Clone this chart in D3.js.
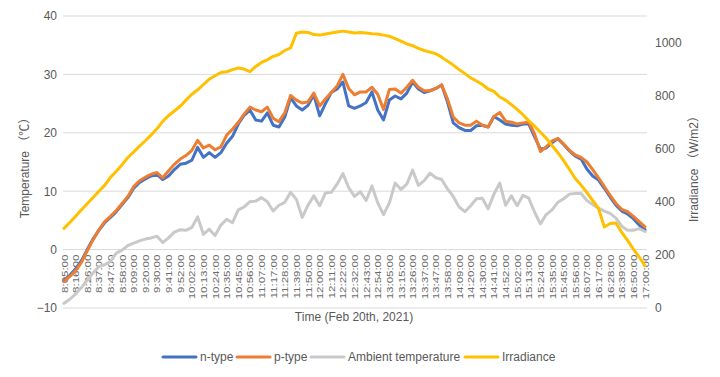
<!DOCTYPE html>
<html>
<head>
<meta charset="utf-8">
<script src="https://cdn.jsdelivr.net/npm/d3@7"></script>
<style>
  body { margin: 0; background: #fff; }
  text { font-family: "Liberation Sans", Arial, "Noto Sans CJK SC", sans-serif; fill: #595959; }
</style>
</head>
<body>
<svg id="chart"></svg>
<script>
const tickLabels = ["8:05:00","8:16:00","8:26:00","8:37:00","8:47:00","8:58:00","9:09:00","9:20:00","9:30:00","9:41:00","9:52:00","10:02:00","10:13:00","10:24:00","10:35:00","10:45:00","10:56:00","11:07:00","11:17:00","11:28:00","11:39:00","11:50:00","12:00:00","12:11:00","12:22:00","12:32:00","12:43:00","12:54:00","13:05:00","13:15:00","13:26:00","13:37:00","13:47:00","13:58:00","14:09:00","14:20:00","14:30:00","14:41:00","14:52:00","15:02:00","15:13:00","15:24:00","15:35:00","15:45:00","15:56:00","16:07:00","16:17:00","16:28:00","16:39:00","16:50:00","17:00:00"];

const tempTicks = [-10, 0, 10, 20, 30, 40];
const irrTicks = [0, 200, 400, 600, 800, 1000];

// two readings per labelled interval, 8:05 -> 17:00
const nType = [-5.3,-4.4,-3.3,-1.9,0.0,1.8,3.3,4.6,5.5,6.5,7.7,8.9,10.5,11.5,12.1,12.6,12.9,12.0,12.6,13.7,14.6,14.8,15.3,17.5,15.8,16.6,15.8,16.6,18.2,19.4,21.5,23.0,23.9,22.2,22.0,23.4,21.3,21.0,22.7,26.0,24.6,23.9,24.7,26.5,22.9,25.0,26.9,27.5,28.7,24.6,24.2,24.6,25.2,27.0,23.9,22.2,25.6,26.3,25.8,26.8,28.7,27.5,26.9,27.2,27.6,28.2,25.3,21.7,20.9,20.4,20.4,21.2,21.3,21.0,22.8,22.2,21.5,21.3,21.2,21.5,21.5,19.3,17.2,17.4,18.3,19.0,18.0,16.9,16.0,15.5,13.8,12.6,11.9,10.5,9.0,7.6,6.6,6.1,5.3,4.2,3.4];

const pType = [-5.5,-4.6,-3.6,-2.2,-0.2,1.7,3.4,4.8,5.7,6.7,7.9,9.1,10.8,11.8,12.4,12.9,13.2,12.3,13.5,14.6,15.5,16.1,17.0,18.7,17.4,17.9,17.1,17.6,19.6,20.6,21.8,23.2,24.4,23.9,23.6,24.4,22.5,21.9,23.4,26.4,25.6,25.1,25.3,26.8,24.6,25.8,26.9,28.0,30.0,27.6,26.5,27.0,27.0,27.8,26.6,24.0,27.4,27.5,26.8,27.8,29.0,27.8,27.2,27.2,27.6,28.2,25.8,22.7,21.7,21.3,21.3,22.0,21.3,21.0,22.8,23.5,22.0,21.8,21.5,21.7,21.8,19.8,16.8,17.6,18.6,19.0,18.1,17.0,16.2,15.8,15.0,13.7,12.3,10.8,9.3,7.9,6.9,6.5,5.7,4.8,3.9];

const ambient = [-9.2,-8.5,-7.6,-6.5,-5.2,-4.0,-2.9,-2.6,-2.0,-0.6,-0.1,0.7,1.1,1.5,1.8,2.0,2.3,1.2,2.0,3.0,3.4,3.3,3.8,5.6,2.6,3.5,2.4,4.2,5.2,4.6,6.8,7.3,8.2,8.3,8.9,8.2,6.6,7.6,8.1,9.8,8.6,5.5,7.6,9.2,7.5,9.7,9.8,11.2,13.0,10.6,9.1,9.9,8.4,10.9,8.0,6.0,8.0,11.4,10.3,11.2,13.6,11.0,11.8,13.1,12.3,12.0,10.4,9.1,7.3,6.5,7.5,8.7,8.8,7.0,9.5,11.4,7.6,9.2,7.5,9.3,8.8,6.4,4.4,6.0,6.8,8.1,8.7,9.5,9.6,9.6,8.4,7.7,7.1,6.6,6.2,5.4,4.0,3.3,3.3,3.6,3.1];

const irradiance = [300,322,346,370,393,416,440,462,492,515,540,567,588,610,630,652,675,703,725,742,760,783,805,822,842,862,875,887,890,898,904,900,890,910,925,935,948,955,970,980,1035,1040,1038,1030,1028,1032,1036,1040,1043,1040,1036,1038,1036,1033,1032,1028,1024,1015,1005,995,988,978,970,964,958,945,930,915,898,883,867,855,842,825,816,795,783,766,748,728,705,685,662,640,612,585,555,522,488,463,435,405,375,305,318,320,285,255,222,192,159];

const series = [
  { name: "n-type", values: nType, color: "#4472C4", axis: "left" },
  { name: "p-type", values: pType, color: "#ED7D31", axis: "left" },
  { name: "Ambient temperature", values: ambient, color: "#C9C9C9", axis: "left" },
  { name: "Irradiance", values: irradiance, color: "#FFC000", axis: "right" }
];

const width = 720;
const height = 377;

const svg = d3.select("#chart").attr("width", width).attr("height", height);

const x = d3.scaleLinear().domain([0, nType.length - 1]).range([64, 645]);
const yL = d3.scaleLinear().domain([-10, 40]).range([308, 16]);
const yR = d3.scaleLinear().domain([0, 1100]).range([308, 16]);

// gridlines
svg.append("g")
  .selectAll("line")
  .data(tempTicks)
  .join("line")
  .attr("x1", 63)
  .attr("x2", 647)
  .attr("y1", (d) => yL(d))
  .attr("y2", (d) => yL(d))
  .attr("stroke", "#D9D9D9")
  .attr("stroke-width", 1);

// left axis
const left = svg.append("g")
  .attr("transform", "translate(57,0)")
  .call(d3.axisLeft(yL).tickValues(tempTicks).tickSize(0).tickPadding(0));
left.select(".domain").remove();
left.selectAll("text").style("font-size", "12px").style("fill", "#595959");

// right axis
const right = svg.append("g")
  .attr("transform", "translate(655,0)")
  .call(d3.axisRight(yR).tickValues(irrTicks).tickFormat(d3.format("d")).tickSize(0).tickPadding(0));
right.select(".domain").remove();
right.selectAll("text").style("font-size", "12px").style("fill", "#595959");

// x axis (category labels sit on the 0 line)
const xAxis = svg.append("g")
  .attr("transform", `translate(0,${yL(0)})`)
  .call(
    d3.axisBottom(x)
      .tickValues(d3.range(0, nType.length, 2))
      .tickFormat((d) => tickLabels[d / 2])
      .tickSize(0)
  );
xAxis.select(".domain").remove();
xAxis.selectAll("text")
  .attr("x", 0)
  .attr("y", 0)
  .attr("dy", "0.35em")
  .attr("text-anchor", "end")
  .attr("transform", "translate(0,5) rotate(-90) scale(1,0.75)")
  .style("font-size", "11.5px")
  .style("fill", "#6b6b6b");

// lines
for (const s of series) {
  const yScale = s.axis === "left" ? yL : yR;
  const line = d3.line()
    .x((d, i) => x(i))
    .y((d) => yScale(d));
  svg.append("path")
    .datum(s.values)
    .attr("fill", "none")
    .attr("stroke", s.color)
    .attr("stroke-width", 3)
    .attr("stroke-linejoin", "round")
    .attr("stroke-linecap", "round")
    .attr("d", line);
}

// axis titles
svg.append("text")
  .attr("transform", "translate(29,165) rotate(-90)")
  .attr("text-anchor", "middle")
  .style("font-size", "12px")
  .text("Temperature （℃）");

svg.append("text")
  .attr("transform", "translate(698,166) rotate(-90)")
  .attr("text-anchor", "middle")
  .style("font-size", "12px")
  .text("Irradiance （W/m2）");

svg.append("text")
  .attr("x", 354)
  .attr("y", 321)
  .attr("text-anchor", "middle")
  .style("font-size", "12px")
  .text("Time (Feb 20th, 2021)");

// legend
const legendX = [163, 237, 311, 465];
const legend = svg.append("g");
series.forEach((s, i) => {
  const g = legend.append("g").attr("transform", `translate(${legendX[i]},357)`);
  g.append("line")
    .attr("x1", 0)
    .attr("x2", 33)
    .attr("stroke", s.color)
    .attr("stroke-width", 3)
    .attr("stroke-linecap", "round");
  g.append("text")
    .attr("x", 37)
    .attr("dy", "0.35em")
    .style("font-size", "12px")
    .text(s.name);
});
</script>
</body>
</html>
